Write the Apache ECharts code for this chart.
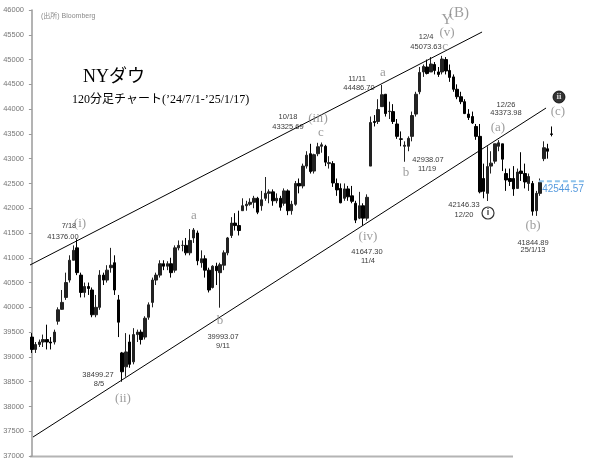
<!DOCTYPE html>
<html><head><meta charset="utf-8">
<script src="https://cdn.jsdelivr.net/npm/echarts@6/dist/echarts.min.js"></script>
<style>html,body{margin:0;padding:0;background:#fff}#c{width:605px;height:463px}</style>
</head><body><div id="c"></div>
<script>
// ---- data ----
const dates = [
'7/1','7/2','7/3','7/5','7/8','7/9','7/10','7/11','7/12','7/15','7/16','7/17','7/18','7/19','7/22','7/23','7/24','7/25','7/26','7/29','7/30','7/31',
'8/1','8/2','8/5','8/6','8/7','8/8','8/9','8/12','8/13','8/14','8/15','8/16','8/19','8/20','8/21','8/22','8/23','8/26','8/27','8/28','8/29','8/30',
'9/3','9/4','9/5','9/6','9/9','9/10','9/11','9/12','9/13','9/16','9/17','9/18','9/19','9/20','9/23','9/24','9/25','9/26','9/27','9/30',
'10/1','10/2','10/3','10/4','10/7','10/8','10/9','10/10','10/11','10/14','10/15','10/16','10/17','10/18','10/21','10/22','10/23','10/24','10/25','10/28','10/29','10/30','10/31',
'11/1','11/4','11/5','11/6','11/7','11/8','11/11','11/12','11/13','11/14','11/15','11/18','11/19','11/20','11/21','11/22','11/25','11/26','11/27','11/29',
'12/2','12/3','12/4','12/5','12/6','12/9','12/10','12/11','12/12','12/13','12/16','12/17','12/18','12/19','12/20','12/23','12/24','12/26','12/27','12/30','12/31',
'1/2','1/3','1/6','1/7','1/8','1/10','1/13','1/14','1/15','1/16','1/17'];
const opens = [39400,39150,39250,39300,39350,39300,39300,39720,39960,40200,40550,40950,41200,40650,40300,40420,40350,39850,40000,40650,40550,40800,
40900,40150,39080,38800,39300,38900,39450,39500,39400,39800,40100,40550,40650,40880,40830,40880,40750,41200,41250,41250,41100,41400,
41500,40900,40980,40750,40400,40830,40700,40850,41100,41450,41700,41650,41950,42050,42080,42120,42200,42050,42200,42300,
42330,42150,42200,42100,42350,41950,42080,42500,42450,42850,43100,42750,43100,43250,43250,42900,42900,42500,42400,42200,42390,42250,42100,
41800,42050,41800,42850,43750,43750,44050,44300,43950,43950,43700,43400,43250,43250,43450,43900,44350,44750,44850,44750,
44900,44750,44750,45000,44780,44650,44400,44250,44150,43900,43850,43650,43450,42600,42300,42850,42950,43250,43300,42700,42600,
42600,42400,42750,42700,42500,42500,41950,42300,43000,43200,43500];
const closes = [39150,39250,39300,39350,39300,39280,39500,39950,40100,40500,40950,41150,40700,40300,40420,40380,39850,40000,40650,40550,40750,40850,
40350,39700,38700,39100,38850,39450,39500,39350,39780,40050,40550,40650,40880,40830,40880,40700,41200,41250,41250,41100,41350,41560,
40940,40980,40750,40350,40830,40740,40860,41100,41400,41700,41650,41550,42050,42080,42120,42200,41920,42170,42300,42330,
42150,42200,42020,42350,41950,42080,42500,42450,42850,43070,42740,43080,43240,43280,42930,42920,42510,42370,42110,42390,42230,42140,41760,
42050,41800,42220,43730,43730,43990,44290,43910,43960,43750,43450,43390,43270,43410,43870,44300,44740,44860,44720,44910,
44780,44700,45010,44770,44640,44400,44250,44150,43910,43830,43720,43450,42330,42340,42840,42910,43300,43320,42990,42570,42540,
42390,42730,42700,42530,42640,41940,42300,42520,43220,43150,43490];
const lows = [39080,39080,39200,39200,39150,39150,39250,39650,39950,40150,40500,40950,40650,40200,40200,40250,39800,39800,39950,40450,40500,40700,
40250,39400,38499,38600,38780,38850,39300,39250,39350,39750,40000,40450,40600,40750,40750,40600,40700,41150,41130,41050,41050,41300,
40850,40800,40600,40300,40380,40450,39993,40750,41050,41400,41550,41450,41950,41950,42050,42000,41880,41950,42150,42100,
42050,42100,41950,42050,41860,41870,42050,42300,42400,42800,42700,42700,43050,43120,42850,42800,42430,42250,42100,42150,42150,42100,41700,
41780,41647,41750,42850,43650,43700,44050,43850,43800,43700,43400,43250,42938,43150,43350,43850,44300,44650,44700,44750,
44700,44650,44700,44700,44550,44350,44200,44100,43900,43780,43700,43380,42300,42200,42146,42700,42900,43150,42750,42350,42450,
42250,42400,42550,42400,42350,41850,41845,42250,42950,43000,43450];
const highs = [39480,39300,39350,39450,39650,39400,39550,40000,40350,40700,41050,41250,41376,40700,40500,40500,40400,40250,40750,40700,40850,41200,
41050,40250,39100,39480,39450,39580,39550,39550,39820,40100,40600,40700,40950,40950,40930,41000,41250,41350,41350,41400,41580,41600,
41550,41150,41050,40800,40850,40900,40900,41150,41420,41820,41900,41950,42200,42150,42200,42250,42230,42350,42630,42380,
42380,42300,42250,42400,42380,42150,42550,42600,42900,43150,43300,43100,43320,43326,43280,43050,42950,42600,42500,42500,42450,42450,42150,
42330,42100,42280,43850,43880,44200,44487,44300,44150,44100,43800,43550,43350,43450,43950,44350,44850,44900,45000,45050,
44950,44850,45074,45050,44900,44700,44500,44350,44200,44000,43950,43700,43700,42900,43250,43150,43300,43374,43300,42800,42800,
42850,42800,43130,42900,42700,42550,42350,42600,43350,43300,43650];
const yMin = 37000, yMax = 46000, yStep = 500;
const upperChannel = [[-0.5, 40854], [119.6, 45556]];
const lowerChannel = [[0.3, 37383], [136.6, 44022]];
const levelValue = 42544.57;
const levelSpan = [134.7, 146.7];
// [day index, price, text, kind]
const annotations = [
[9.86,41641,'7/18','num'],[12.78,41682,'(i)','wave'],[8.27,41419,'41376.00','num'],
[17.57,38635,'38499.27','num'],[17.83,38453,'8/5','num'],[24.21,38150,'(ii)','wave'],
[43.07,41843,'a','wave'],[49.98,39724,'b','wave'],[50.78,39401,'39993.07','num'],[50.78,39220,'9/11','num'],
[68.04,43841,'10/18','num'],[68.04,43639,'43325.69','num'],[76.01,43800,'(iii)','wave'],[76.81,43518,'c','wave'],
[89.3,41419,'(iv)','wave'],[89.03,41117,'41647.30','num'],[89.3,40935,'11/4','num'],
[86.38,44608,'11/11','num'],[86.91,44426,'44486.70','num'],[93.28,44729,'a','wave'],
[105.24,42973,'42938.07','num'],[104.97,42791,'11/19','num'],[99.4,42711,'b','wave'],
[110.29,45798,'Y','big'],[113.48,45939,'(B)','big'],[110.29,45536,'(v)','wave'],
[104.71,45455,'12/4','num'],[104.71,45253,'45073.63','num'],[109.76,45253,'c','wave'],
[125.96,44083,'12/26','num'],[125.96,43922,'43373.98','num'],[123.83,43619,'(a)','wave'],
[114.8,42065,'42146.33','num'],[114.8,41863,'12/20','num'],[121.18,41904,'i','circ'],
[133.14,41641,'(b)','wave'],[133.14,41298,'41844.89','num'],[133.14,41157,'25/1/13','num'],
[140.04,44244,'ii','circFill'],[139.77,43942,'(c)','wave'],[141.1,42388,'42544.57','blue']
];

// ---- chart ----
const candleData = opens.map((o,i)=>[o, closes[i], lows[i], highs[i]]);
const GRAY = '#858585';
const labelStyles = {
  num: {fontFamily:'Liberation Sans', fontSize:7.5, color:'#000'},
  wave:{fontFamily:'Liberation Serif', fontSize:13, color:GRAY},
  big: {fontFamily:'Liberation Serif', fontSize:15, color:GRAY},
  blue:{fontFamily:'Liberation Sans', fontSize:10, color:'#2a7fd4'},
  circ:{fontFamily:'Liberation Sans', fontSize:9, fontWeight:'bold', color:'#000'},
  circFill:{fontFamily:'Liberation Serif', fontSize:9, fontWeight:'bold', color:'#fff'}
};
const annData = annotations.map(a=>{
  const k=a[3];
  const item = {value:[a[0],a[1]], label:Object.assign({show:true, position:'inside', formatter:a[2]}, labelStyles[k])};
  if(k==='circ'){ item.symbol='circle'; item.symbolSize=12; item.itemStyle={color:'#fff', borderColor:'#000', borderWidth:1.2}; }
  else if(k==='circFill'){ item.symbol='circle'; item.symbolSize=12; item.itemStyle={color:'#000', borderColor:'#000', borderWidth:1}; }
  else { item.symbolSize=1; item.itemStyle={color:'rgba(0,0,0,0)'}; }
  return item;
});

const chart = echarts.init(document.getElementById('c'), null, {renderer:'canvas'});
const GW = 149*3.764;
chart.setOption({
  animation:false,
  backgroundColor:'#fff',
  grid:{left:30, top:10, width:GW, height:446},
  xAxis:[
    {type:'category', data:dates, max:148, boundaryGap:true, axisLine:{show:false}, axisTick:{show:false}, axisLabel:{show:false}, splitLine:{show:false}},
    {type:'value', min:-0.5, max:148.5, show:false}
  ],
  yAxis:{type:'value', min:yMin, max:yMax, interval:yStep,
    axisLine:{show:true, lineStyle:{color:'#9a9a9a', width:1.5}},
    axisTick:{show:true, length:3, lineStyle:{color:'#9a9a9a'}},
    axisLabel:{color:'#777', fontSize:7.5, fontFamily:'Liberation Sans', margin:6, formatter:v=>String(v)},
    splitLine:{show:false}},
  series:[
    {type:'candlestick', xAxisIndex:0, data:candleData, barWidth:3,
      itemStyle:{color:'#222', color0:'#000', borderColor:'#222', borderColor0:'#000', borderWidth:1}},
    {type:'line', xAxisIndex:1, data:upperChannel, symbol:'none', lineStyle:{color:'#000', width:1}, silent:true},
    {type:'line', xAxisIndex:1, data:lowerChannel, symbol:'none', lineStyle:{color:'#000', width:1}, silent:true},
    {type:'line', xAxisIndex:1, data:levelSpan.map(x=>[x, levelValue]), symbol:'none', clip:false,
      lineStyle:{color:'#8fc3ec', width:2, type:[5,3]}, silent:true},
    {type:'scatter', xAxisIndex:1, data:annData, clip:false, silent:true, z:5}
  ],
  graphic:[
    {type:'line', shape:{x1:30, y1:456.5, x2:513, y2:456.5}, style:{stroke:'#b4b4b4', lineWidth:2}},
    {type:'text', left:41, top:13, style:{text:'(出所) Bloomberg', fill:'#8a8a8a', font:'7px "Liberation Sans","Noto Sans CJK JP"'}},
    {type:'text', left:83, top:68, style:{text:'NYダウ', fill:'#000', font:'18px "Liberation Serif","Noto Sans CJK JP"'}},
    {type:'text', left:72, top:94, style:{text:'120分足チャート(’24/7/1-’25/1/17)', fill:'#000', font:'12px "Liberation Serif","Noto Sans CJK JP"'}}
  ]
});
</script></body></html>
